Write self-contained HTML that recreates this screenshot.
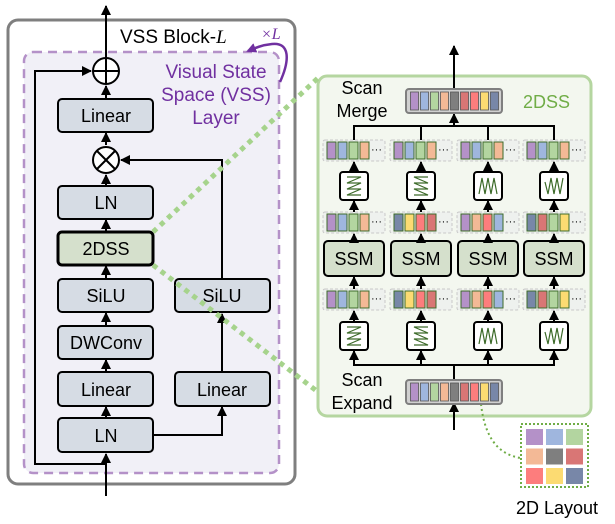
<!DOCTYPE html>
<html><head><meta charset="utf-8"><style>
html,body{margin:0;padding:0;background:#fff;}
svg{display:block;font-family:"Liberation Sans",Arial,sans-serif;}
</style></head><body>
<svg id="s" width="615" height="524" viewBox="0 0 615 524" xmlns="http://www.w3.org/2000/svg">
<defs>
<marker id="a" viewBox="0 0 10 10" refX="9" refY="5" markerWidth="5" markerHeight="5" orient="auto"><path d="M0,0L10,5L0,10z" fill="#000"/></marker>
<marker id="p" viewBox="0 0 10 10" refX="8" refY="5" markerWidth="4" markerHeight="4" orient="auto"><path d="M0,0L10,5L0,10z" fill="#7030a0"/></marker>
</defs>
<rect x="8" y="20" width="287" height="464" rx="10" fill="#fff" stroke="#7f7f7f" stroke-width="3"/>
<rect x="24" y="52" width="255" height="421" rx="9" fill="#f1f0f7" stroke="#b491c8" stroke-width="2.5" stroke-dasharray="9,6"/>
<text x="120" y="43" font-size="19">VSS Block-<tspan font-family="Liberation Serif" font-style="italic">L</tspan></text>
<text x="261" y="39" font-size="16" fill="#7030a0" font-family="Liberation Serif" font-style="italic">×L</text>
<path d="M280,82 C290,60 290,42 272,44 C262,45 255,48 248,51" fill="none" stroke="#7030a0" stroke-width="2.5" marker-end="url(#p)"/>
<text fill="#7030a0" font-size="19" text-anchor="middle"><tspan x="216" y="78">Visual State</tspan><tspan x="216" y="101">Space (VSS)</tspan><tspan x="216" y="124">Layer</tspan></text>

<g stroke="#000" stroke-width="2" fill="none">
<line x1="106" y1="496" x2="106" y2="454" marker-end="url(#a)"/>
<polyline points="106,464 35,464 35,71 91,71" marker-end="url(#a)"/>
<line x1="106" y1="58" x2="106" y2="6" marker-end="url(#a)"/>
<line x1="106" y1="99" x2="106" y2="86" marker-end="url(#a)"/>
<line x1="106" y1="186" x2="106" y2="175" marker-end="url(#a)"/>
<line x1="106" y1="232" x2="106" y2="220" marker-end="url(#a)"/>
<line x1="106" y1="279" x2="106" y2="266" marker-end="url(#a)"/>
<line x1="106" y1="326" x2="106" y2="313" marker-end="url(#a)"/>
<line x1="106" y1="372" x2="106" y2="360" marker-end="url(#a)"/>
<line x1="106" y1="418" x2="106" y2="407" marker-end="url(#a)"/>
<line x1="106" y1="145" x2="106" y2="133" marker-end="url(#a)"/>
<polyline points="153,435 222,435 222,407" marker-end="url(#a)"/>
<line x1="222" y1="372" x2="222" y2="314" marker-end="url(#a)"/>
<polyline points="222,279 222,160 121,160" marker-end="url(#a)"/>
</g>
<circle cx="106" cy="71" r="13" fill="#fff" stroke="#000" stroke-width="2"/>
<path d="M93,71H119M106,58V84" stroke="#000" stroke-width="2"/>
<circle cx="106" cy="160" r="13" fill="#fff" stroke="#000" stroke-width="2"/>
<path d="M97,151L115,169M115,151L97,169" stroke="#000" stroke-width="2"/>

<g stroke="#000" stroke-width="2" fill="#d6dce4">
<rect x="58" y="99" width="95" height="33" rx="4"/>
<rect x="58" y="186" width="95" height="33" rx="4"/>
<rect x="58" y="232" width="95" height="33" rx="4" fill="#d5e0cc" stroke-width="3"/>
<rect x="58" y="279" width="95" height="33" rx="4"/>
<rect x="58" y="326" width="95" height="33" rx="4"/>
<rect x="58" y="372" width="95" height="34" rx="4"/>
<rect x="58" y="418" width="95" height="34" rx="4"/>
<rect x="175" y="279" width="95" height="33" rx="4"/>
<rect x="175" y="372" width="95" height="34" rx="4"/>
</g>
<g font-size="18" text-anchor="middle">
<text x="106" y="122">Linear</text>
<text x="106" y="209">LN</text>
<text x="106" y="255">2DSS</text>
<text x="106" y="302">SiLU</text>
<text x="106" y="349">DWConv</text>
<text x="106" y="396">Linear</text>
<text x="106" y="442">LN</text>
<text x="222" y="302">SiLU</text>
<text x="222" y="396">Linear</text>
</g>

<rect x="318" y="76" width="273" height="340" rx="9" fill="#f3f7ef" stroke="#b5d6a0" stroke-width="3"/>
<line x1="153" y1="232" x2="318" y2="78" stroke="#a6d38c" stroke-width="5" stroke-dasharray="5,5"/>
<line x1="153" y1="265" x2="318" y2="392" stroke="#a6d38c" stroke-width="5" stroke-dasharray="5,5"/>
<text x="523" y="108" font-size="18" fill="#70ad47">2DSS</text>
<text font-size="18" text-anchor="middle"><tspan x="362" y="94">Scan</tspan><tspan x="362" y="117">Merge</tspan></text>
<text font-size="18" text-anchor="middle"><tspan x="362" y="386">Scan</tspan><tspan x="362" y="409">Expand</tspan></text>
<g stroke="#000" stroke-width="2" fill="none">
<line x1="454" y1="89" x2="454" y2="46" marker-end="url(#a)"/>
<polyline points="354,140 354,126 554,126 554,140"/>
<line x1="421" y1="126" x2="421" y2="140"/><line x1="488" y1="126" x2="488" y2="140"/>
<line x1="454" y1="126" x2="454" y2="114" marker-end="url(#a)"/>
<line x1="454" y1="430" x2="454" y2="403" marker-end="url(#a)"/>
<polyline points="354,350 354,365 554,365 554,350"/>
<line x1="421" y1="365" x2="421" y2="350"/><line x1="488" y1="365" x2="488" y2="350"/>
<line x1="454" y1="380" x2="454" y2="365"/>
</g>
<path d="M481,404 C485,440 500,455 521,458" fill="none" stroke="#70ad47" stroke-width="2" stroke-dasharray="2,3"/>
<rect x="521" y="424" width="67" height="63" fill="#fff" stroke="#70ad47" stroke-width="2" stroke-dasharray="2,2"/>
<text x="557" y="514" font-size="18" text-anchor="middle">2D Layout</text>
<g id="dyn"></g>
</svg>
<script>
var C={P:"#b491c8",B:"#9fb6de",G:"#b3d5a0",O:"#f3b996",K:"#7f7f7f",D:"#d97675",R:"#fd7d7d",Y:"#fcdb72",S:"#7887a8"};
var h="";
function r(x,y,w,hh,f,st,sw,rx,da){h+='<rect x="'+x+'" y="'+y+'" width="'+w+'" height="'+hh+'" fill="'+f+'" stroke="'+(st||"none")+'" stroke-width="'+(sw||0)+'" rx="'+(rx||0)+'"'+(da?' stroke-dasharray="'+da+'"':'')+'/>';}
function ln(x,y1,y2){h+='<line x1="'+x+'" y1="'+y1+'" x2="'+x+'" y2="'+y2+'" stroke="#000" stroke-width="2" marker-end="url(#a)"/>';}
[[89],[380]].forEach(function(a){var y=a[0];r(406,y,96,24,"#d0d0d0","#7f7f7f",2,3);
"PBGOKDRYS".split("").forEach(function(c,i){r(410+i*10+0.5,y+3,8,18,C[c],"#555",0.8);});});
var cx=[354,421,488,554];
var seqs={top:["PBGO","PBGO","PBGO","PBGO"],bot:["PBGO","SYRD","PORB","SDGY"]};
function grp(x,y,s){r(x-31,y,62,21,"#eef1ee","#c8c8c8",1,2,"3,2");
s.split("").forEach(function(c,i){r(x-27+i*11,y+2,9,17,C[c],"#3d6b2a",1);});
h+='<text x="'+(x+17)+'" y="'+(y+13)+'" font-size="11">···</text>';}
var zig=["M-7,-9H7L-7,-3H7L-7,3H7L-7,9H7","M7,-9H-7L7,-3H-7L7,3H-7L7,9H-7","M-9,8L-6,-8L-3,8L0,-8L3,8L6,-8L9,8","M-9,-4L-6,8L-3,-8L0,8L3,-8L6,8L9,-8"];
function icon(x,y,k){r(x-14,y,28,28,"#fff","#000",2,3);
h+='<path transform="translate('+x+','+(y+14)+')" d="'+zig[k]+'" fill="none" stroke="#3d6b2a" stroke-width="1.2"/>';}
cx.forEach(function(x,i){
grp(x,140,seqs.top[i]);icon(x,172,i);grp(x,212,seqs.bot[i]);
r(x-30,241,60,35,"#d5e0cc","#000",2,4);
h+='<text x="'+x+'" y="265" font-size="18" text-anchor="middle">SSM</text>';
grp(x,289,seqs.bot[i]);icon(x,322,i);
ln(x,172,162);ln(x,212,201);ln(x,241,234);ln(x,289,277);ln(x,322,311);ln(x,365,351);
});
var L=["PBG","OKD","RYS"];
L.forEach(function(row,j){row.split("").forEach(function(c,i){r(526+i*20,429+j*19.5,17,16,C[c]);});});
document.getElementById("dyn").innerHTML=h;
</script>
</body></html>
